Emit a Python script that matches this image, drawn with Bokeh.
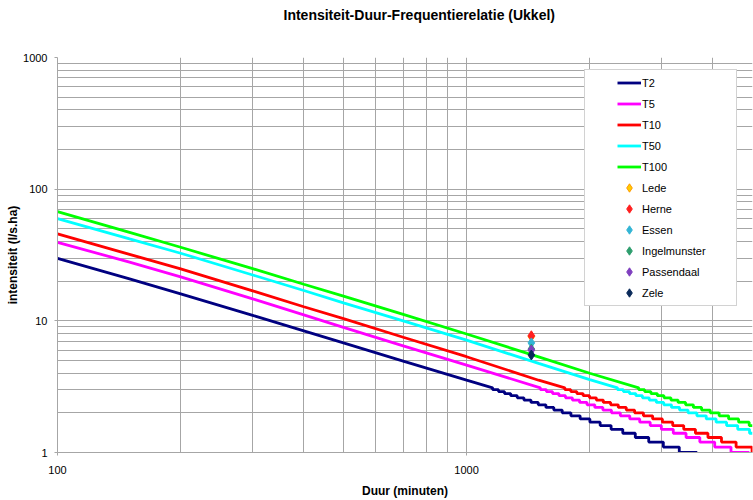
from bokeh.plotting import figure
from bokeh.models import Range1d, FixedTicker, PrintfTickFormatter, Legend, LegendItem, Title
from bokeh.embed import file_html
from bokeh.resources import INLINE

# ---------------- data (durations in minutes, intensities in l/s.ha) ----------------
minor_y = [2, 3, 4, 5, 6, 7, 8, 9, 20, 30, 40, 50, 60, 70, 80, 90, 200, 300, 400, 500, 600, 700, 800, 900]
minor_x = [200, 300, 400, 500, 600, 700, 800, 900, 2000, 3000, 4000, 5000]
major_y = [1, 10, 100, 1000]
major_x = [100, 1000]

# smooth part of each curve
t2_dur = [100, 150, 200, 300, 400, 500, 700, 1000]
t2_val = [29.8, 20.8, 16.0, 11.0, 8.4, 6.8, 4.95, 3.54]
t5_dur = [100, 150, 200, 300, 400, 500, 700, 1000]
t5_val = [39.5, 27.9, 21.6, 14.7, 11.1, 8.93, 6.45, 4.61]
t10_dur = [100, 150, 200, 300, 400, 500, 700, 1000, 1500]
t10_val = [45.7, 32.0, 24.8, 16.9, 12.8, 10.4, 7.5, 5.34, 3.54]
t50_dur = [100, 150, 200, 300, 400, 500, 700, 1000, 1500, 2000]
t50_val = [59.8, 41.9, 32.6, 22.3, 17.0, 13.7, 10.0, 7.13, 4.75, 3.58]
t100_dur = [100, 150, 200, 300, 400, 500, 700, 1000, 1500, 2000]
t100_val = [67.5, 46.9, 36.2, 24.9, 18.95, 15.4, 11.2, 7.94, 5.32, 4.0]

# stepped tail (values rounded to 0.1): duration at which each level starts
t2_step_dur = [1158, 1197, 1238, 1282, 1330, 1381, 1437, 1497, 1563, 1634, 1713,
               1799, 1895, 2002, 2121, 2256, 2409, 2585, 2788, 3027, 3311, 3654]
t2_step_val = [3.0, 2.9, 2.8, 2.7, 2.6, 2.5, 2.4, 2.3, 2.2, 2.1, 2.0,
               1.9, 1.8, 1.7, 1.6, 1.5, 1.4, 1.3, 1.2, 1.1, 1.0, 0.9]
t2_end = 3800
t5_step_dur = [1515, 1567, 1622, 1682, 1745, 1814, 1889, 1970, 2058, 2154, 2260,
               2376, 2506, 2650, 2811, 2993, 3201, 3440, 3717, 4042, 4430, 4899]
t5_step_val = [3.0, 2.9, 2.8, 2.7, 2.6, 2.5, 2.4, 2.3, 2.2, 2.1, 2.0,
               1.9, 1.8, 1.7, 1.6, 1.5, 1.4, 1.3, 1.2, 1.1, 1.0, 0.9]
t5_end = 5000
t10_step_dur = [1739, 1798, 1860, 1927, 1998, 2076, 2159, 2250, 2349, 2457, 2575,
                2706, 2850, 3011, 3191, 3395, 3626, 3891, 4199, 4559, 4988]
t10_step_val = [3.0, 2.9, 2.8, 2.7, 2.6, 2.5, 2.4, 2.3, 2.2, 2.1, 2.0,
                1.9, 1.8, 1.7, 1.6, 1.5, 1.4, 1.3, 1.2, 1.1, 1.0]
t10_end = 5000
t50_step_dur = [2338, 2417, 2502, 2593, 2691, 2796, 2910, 3034, 3169, 3316, 3478,
                3656, 3854, 4074, 4321, 4600, 4917]
t50_step_val = [3.0, 2.9, 2.8, 2.7, 2.6, 2.5, 2.4, 2.3, 2.2, 2.1, 2.0,
                1.9, 1.8, 1.7, 1.6, 1.5, 1.4]
t50_end = 5000
t100_step_dur = [2635, 2725, 2822, 2926, 3038, 3159, 3289, 3431, 3585, 3754, 3940,
                 4144, 4371, 4624, 4908]
t100_step_val = [3.0, 2.9, 2.8, 2.7, 2.6, 2.5, 2.4, 2.3, 2.2, 2.1, 2.0,
                 1.9, 1.8, 1.7, 1.6]
t100_end = 5000

# measured stations (1 day = 1440 min)
stations = ["Lede", "Herne", "Essen", "Ingelmunster", "Passendaal", "Zele"]
station_dur = [1440, 1440, 1440, 1440, 1440, 1440]
station_val = [7.6, 7.7, 6.8, 6.1, 6.0, 5.5]

series_names = ["T2", "T5", "T10", "T50", "T100"]
series_colors = ["#000080", "#FF00FF", "#FF0000", "#00FFFF", "#00FF00"]
station_fill = ["#FFCC00", "#FF2020", "#33B5D5", "#2E9E6E", "#7F3FBF", "#0A2A5A"]
station_line = ["#FF9900", "#FF2020", "#33B5D5", "#2E9E6E", "#7F3FBF", "#0A2A5A"]

FONT = "Liberation Sans"
GRID = "#A6A6A6"
TITLE = "Intensiteit-Duur-Frequentierelatie (Ukkel)"


def build(dur, val, sdur, sval, end):
    xs = list(dur)
    ys = list(val)
    prev = round(sval[0] + 0.1, 1)
    for d, v in zip(sdur, sval):
        xs += [d, d]
        ys += [prev, v]
        prev = v
    xs.append(end)
    ys.append(prev)
    return xs, ys


curves = [
    build(t2_dur, t2_val, t2_step_dur, t2_step_val, t2_end),
    build(t5_dur, t5_val, t5_step_dur, t5_step_val, t5_end),
    build(t10_dur, t10_val, t10_step_dur, t10_step_val, t10_end),
    build(t50_dur, t50_val, t50_step_dur, t50_step_val, t50_end),
    build(t100_dur, t100_val, t100_step_dur, t100_step_val, t100_end),
]

p = figure(width=753, height=500, x_axis_type="log", y_axis_type="log",
           x_range=Range1d(100, 5000), y_range=Range1d(1, 1000),
           output_backend="svg", toolbar_location=None, title=None,
           min_border_left=57, min_border_right=1, min_border_top=57, min_border_bottom=47)
p.outline_line_color = None
p.background_fill_color = "white"
p.border_fill_color = "white"

# spacer between the frame and the title (nearest to the frame), then the title
spacer = Title(text=" ", text_font=FONT, text_font_size="12px", standoff=12)
p.add_layout(spacer, "above")
title = Title(text=TITLE, align="left", offset=226, vertical_align="top", standoff=10,
              text_font=FONT, text_font_size="14px", text_font_style="bold",
              text_color="#000000")
p.add_layout(title, "above")

# axes
xa = p.xaxis[0]
ya = p.yaxis[0]
xa.ticker = FixedTicker(ticks=major_x, minor_ticks=minor_x)
ya.ticker = FixedTicker(ticks=major_y, minor_ticks=minor_y)
for ax in (xa, ya):
    ax.formatter = PrintfTickFormatter(format="%d")
    ax.axis_line_color = GRID
    ax.major_tick_line_color = GRID
    ax.major_tick_out = 3
    ax.major_tick_in = 0
    ax.minor_tick_out = 0
    ax.minor_tick_in = 0
    ax.major_label_text_font = FONT
    ax.major_label_text_font_size = "11px"
    ax.major_label_text_color = "#000000"
    ax.axis_label_text_font = FONT
    ax.axis_label_text_font_size = "12px"
    ax.axis_label_text_font_style = "bold"
    ax.axis_label_text_color = "#000000"
xa.axis_label = "Duur (minuten)"
ya.axis_label = "intensiteit (l/s.ha)"
xa.major_label_standoff = 10
xa.axis_label_standoff = 7
ya.major_label_standoff = 7
ya.axis_label_standoff = 0

for g in (p.xgrid[0], p.ygrid[0]):
    g.grid_line_color = GRID
    g.grid_line_width = 1
    g.minor_grid_line_color = GRID
    g.minor_grid_line_width = 1

items = []
for (xs, ys), name, col in zip(curves, series_names, series_colors):
    r = p.line(xs, ys, line_color=col, line_width=2.8)
    items.append(LegendItem(label=name, renderers=[r]))

for i, name in enumerate(stations):
    r = p.scatter([station_dur[i]], [station_val[i]], marker="diamond", size=10,
                  fill_color=station_fill[i], line_color=station_line[i], line_width=1)
    items.append(LegendItem(label=name, renderers=[r]))

legend = Legend(items=items, location=(527, 146))
try:
    legend.padding = dict(top=2, right=2, bottom=2, left=32)
    legend.glyph_width = 24
    legend.label_standoff = 1
except Exception:
    legend.padding = 2
    legend.glyph_width = 52
    legend.label_standoff = 4
legend.margin = 0
legend.spacing = 0
legend.glyph_height = 21
legend.label_height = 21
legend.label_width = 92
legend.label_text_font = FONT
legend.label_text_font_size = "11px"
legend.label_text_color = "#000000"
legend.border_line_color = GRID
legend.border_line_width = 1
legend.background_fill_color = "white"
legend.background_fill_alpha = 1.0
p.add_layout(legend, "center")

open("out.html", "w").write(file_html(p, INLINE))
